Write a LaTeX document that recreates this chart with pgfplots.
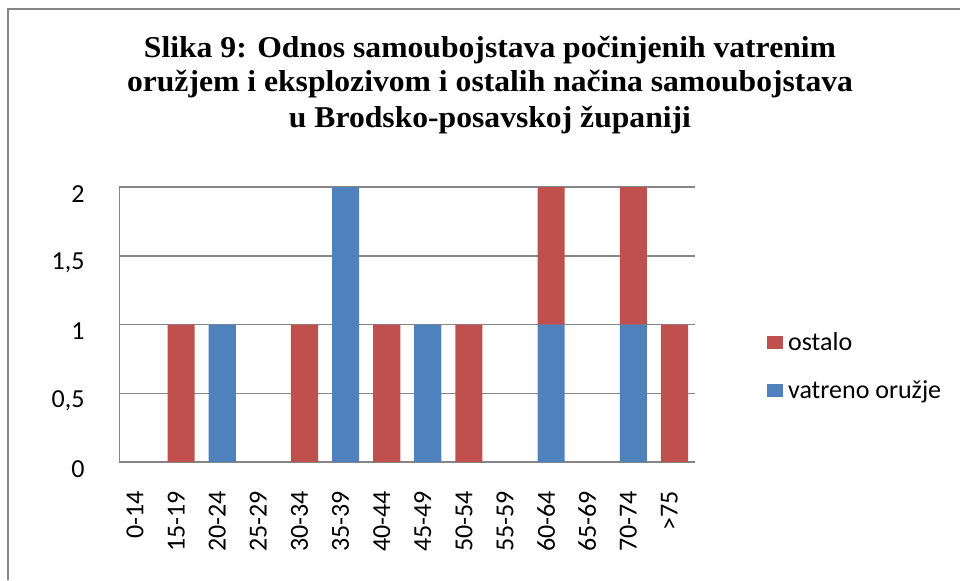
\documentclass[border=0pt]{standalone}
\usepackage{pgfplots}
\pgfplotsset{compat=1.18}
\usepackage{fontspec}
\setmainfont{Carlito}
\newfontfamily\titlefont{Liberation Serif}
\definecolor{ored}{RGB}{192,80,77}
\definecolor{vblue}{RGB}{79,129,189}
\definecolor{gridgray}{RGB}{134,134,134}
\begin{document}
\begin{tikzpicture}
\path[use as bounding box] (0,0) rectangle (480pt,290pt);
\draw[gridgray, line width=1pt] (4pt,0) -- (4pt,285.5pt) -- (480pt,285.5pt);
\begin{scope}[every node/.style={anchor=base, inner sep=0pt, font=\titlefont\bfseries\fontsize{14}{17.5}\selectfont}]
\node at (245pt,261.5pt) {\scalebox{1.13}[1.08]{Slika 9: Odnos samoubojstava počinjenih vatrenim}};
\node at (245pt,244pt) {\scalebox{1.13}[1.08]{oružjem i eksplozivom i ostalih načina samoubojstava}};
\node at (245pt,226.5pt) {\scalebox{1.13}[1.08]{u Brodsko-posavskoj županiji}};
\end{scope}
\begin{axis}[
  at={(59.75pt,59pt)}, anchor=south west,
  scale only axis, width=287.75pt, height=137.5pt,
  xmin=-0.5, xmax=13.5, ymin=0, ymax=2,
  ybar stacked, bar width=0.66,
  xtick={0,...,13},
  xticklabels={0-14,15-19,20-24,25-29,30-34,35-39,40-44,45-49,50-54,55-59,60-64,65-69,70-74,>75},
  xticklabel style={xshift=-2.5pt, rotate=90, anchor=east, font=\fontsize{13}{15}\selectfont},
  xticklabel shift=11pt,
  ytick={0,0.5,1,1.5,2},
  yticklabel style={yshift=-3.5pt, font=\fontsize{13}{15}\selectfont, /pgf/number format/use comma},
  yticklabel shift=14pt,
  /pgf/number format/assume math mode=true,
  tick style={draw=none},
  axis x line*=bottom, axis y line*=left,
  axis line style={gridgray, line width=0.75pt},
  ymajorgrids, grid style={gridgray, line width=0.75pt},
  legend style={at={(1.125,0.347)}, anchor=west, draw=none, fill=none,
    font=\fontsize{13}{15}\selectfont, row sep=9.5pt, inner xsep=0pt,
    nodes={inner xsep=2.5pt}},
  legend cell align=left,
]
\addlegendimage{legend image code/.code={\fill[ored] (0pt,-3pt) rectangle (7.5pt,3pt);}}
\addlegendimage{legend image code/.code={\fill[vblue] (0pt,-3pt) rectangle (7.5pt,3pt);}}
\addplot[draw=none, fill=vblue] coordinates {
(0,0) (1,0) (2,1) (3,0) (4,0) (5,2) (6,0) (7,1) (8,0) (9,0) (10,1) (11,0) (12,1) (13,0)};
\addplot[draw=none, fill=ored] coordinates {
(0,0) (1,1) (2,0) (3,0) (4,1) (5,0) (6,1) (7,0) (8,1) (9,0) (10,1) (11,0) (12,1) (13,1)};
\legend{ostalo, vatreno oružje}
\end{axis}
\end{tikzpicture}
\end{document}
